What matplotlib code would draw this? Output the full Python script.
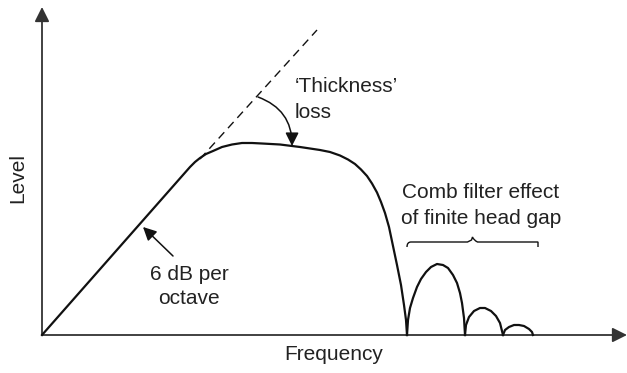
import matplotlib
matplotlib.use("Agg")
import matplotlib.pyplot as plt
from matplotlib.patches import FancyArrowPatch, PathPatch
from matplotlib.path import Path

plt.rcParams['font.family'] = ['Liberation Sans', 'DejaVu Sans']

# Response curve (frequency units, level units)
main_freq = [0, 148, 153, 158, 164, 171, 180, 190, 200, 210, 220, 238, 258, 268, 278,
             288, 298, 306, 313, 319, 325, 330, 335, 339, 343, 347, 351, 355, 359,
             362, 364, 365]
main_level = [0, 168, 173, 177, 181, 184, 188, 190.5, 192, 192, 191.5, 190.5, 188, 186.5,
              185, 183, 179.5, 175.5, 171, 165.5, 159, 151.5, 142.5, 133, 122, 108, 89,
              70, 50, 30, 15, 0]

# Comb filter lobes
lobe1_freq = [365, 366, 368, 371, 375, 379, 384, 389, 395, 401, 406, 411, 415, 418, 420, 422, 423]
lobe1_level = [0, 15, 27, 37, 48, 56, 63, 68, 71, 70, 67, 60, 52, 42, 32, 17, 0]
lobe2_freq = [423, 424, 427, 432, 438, 443, 449, 454, 458, 461]
lobe2_level = [0, 10, 18, 24, 27, 27, 24, 19, 12, 0]
lobe3_freq = [461, 463, 467, 472, 477, 482, 487, 490, 491]
lobe3_level = [0, 5, 8, 10, 10, 9, 6, 3, 0]

# 6 dB/octave asymptote (dashed extension)
asym_freq = [158, 275]
asym_level = [176, 305]

fig = plt.figure(figsize=(6.27, 3.73), dpi=100)
ax = fig.add_axes([0, 0, 1, 1])
ax.set_xlim(-42, 585)
ax.set_ylim(-38, 335)
ax.axis("off")

ink = "#111111"
axis_col = "#333333"

# axes with arrows
ax.add_patch(FancyArrowPatch((0, 0), (0, 328), arrowstyle="-|>", mutation_scale=22,
                             color=axis_col, lw=1.3, shrinkA=0, shrinkB=0))
ax.add_patch(FancyArrowPatch((0, 0), (585, 0), arrowstyle="-|>", mutation_scale=22,
                             color=axis_col, lw=1.3, shrinkA=0, shrinkB=0))

ax.plot(main_freq, main_level, color=ink, lw=1.6, solid_joinstyle="round")
for fx, ly in [(lobe1_freq, lobe1_level), (lobe2_freq, lobe2_level), (lobe3_freq, lobe3_level)]:
    ax.plot(fx, ly, color=ink, lw=1.6, solid_joinstyle="round")
ax.plot(asym_freq, asym_level, color=ink, lw=1.0, dashes=(6, 4))

# 'Thickness' loss arrow
ax.add_patch(FancyArrowPatch((216, 238), (250, 189), connectionstyle="arc3,rad=-0.35",
                             arrowstyle="-|>", mutation_scale=20, color=ink, lw=1.1,
                             shrinkA=0, shrinkB=0))
# 6 dB per octave arrow
ax.add_patch(FancyArrowPatch((131, 79), (101, 108), arrowstyle="-|>", mutation_scale=20,
                             color=ink, lw=1.1, shrinkA=0, shrinkB=0))

# brace over the comb lobes
bx0, bx1, by, bh = 365, 496, 93, 7
mid = (bx0 + bx1) / 2
verts = [(bx0, by - 5), (bx0, by), (bx0 + 4, by), (bx0 + 8, by),
         (mid - 5, by), (mid - 5, by), (mid - 1, by + 2), (mid, by + bh / 1.4),
         (mid + 1, by + 2), (mid + 5, by), (mid + 5, by),
         (bx1 - 8, by), (bx1 - 4, by), (bx1, by), (bx1, by - 5)]
codes = [Path.MOVETO, Path.CURVE3, Path.CURVE3, Path.LINETO,
         Path.LINETO, Path.CURVE3, Path.CURVE3, Path.LINETO,
         Path.CURVE3, Path.CURVE3, Path.LINETO,
         Path.LINETO, Path.CURVE3, Path.CURVE3, Path.LINETO]
ax.add_patch(PathPatch(Path(verts, codes), fill=False, color=ink, lw=1.0))

fs = 15
txt = "#222222"
ax.text(253, 248, "\u2018Thickness\u2019", fontsize=fs, ha="left", va="center", color=txt)
ax.text(253, 223, "loss", fontsize=fs, ha="left", va="center", color=txt)
ax.text(439, 142, "Comb filter effect", fontsize=fs, ha="center", va="center", color=txt)
ax.text(439, 116, "of finite head gap", fontsize=fs, ha="center", va="center", color=txt)
ax.text(147, 60, "6 dB per", fontsize=fs, ha="center", va="center", color=txt)
ax.text(147, 36, "octave", fontsize=fs, ha="center", va="center", color=txt)
ax.text(-24, 157, "Level", fontsize=fs, ha="center", va="center", rotation=90, color=txt)
ax.text(292, -20, "Frequency", fontsize=fs, ha="center", va="center", color=txt)

fig.savefig("out.png", dpi=100)
